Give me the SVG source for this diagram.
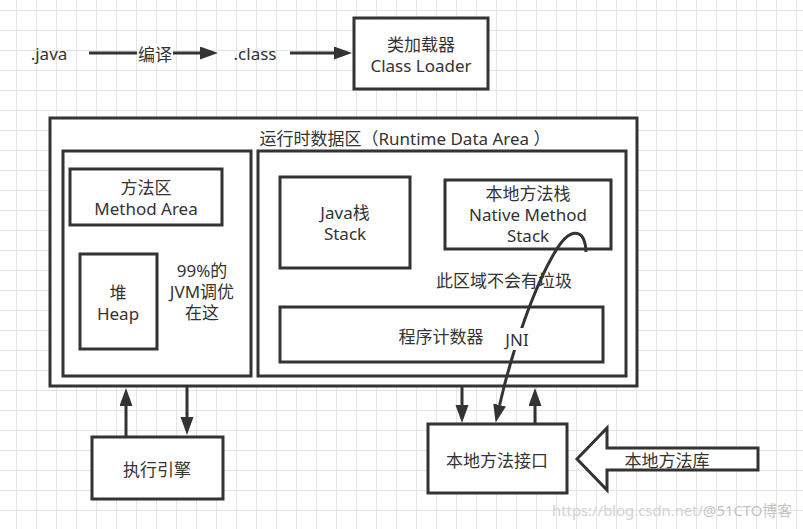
<svg xmlns="http://www.w3.org/2000/svg" width="803" height="529" viewBox="0 0 803 529">
<style>
.box{fill:#fff;stroke:#333;stroke-width:3}
.t{font-family:"Noto Sans","Noto Sans CJK SC",sans-serif;font-size:17px;fill:#333;text-anchor:middle;dominant-baseline:central}
.ln{fill:none;stroke:#333;stroke-width:3}
.wm{font-family:"Noto Sans","Noto Sans CJK SC",sans-serif;font-size:15px;dominant-baseline:central}
</style>
<defs>
<pattern id="grid" patternUnits="userSpaceOnUse" x="16" y="10" width="20" height="20">
<path d="M0.5 0V20M0 0.5H20" stroke="#e4e4e4" stroke-width="1" fill="none"/>
</pattern>
<marker id="ah" markerUnits="userSpaceOnUse" markerWidth="20" markerHeight="14" refX="0" refY="6.5" orient="auto">
<path d="M0,0 L18,6.5 L0,13 z" fill="#333"/>
</marker>
</defs>
<rect width="803" height="529" fill="#fff"/>
<rect width="803" height="529" fill="url(#grid)"/>

<g id="java"><text class="t" x="49" y="53">.java</text></g>
<g id="class"><text class="t" x="255" y="53">.class</text></g>
<g id="classloader">
<rect class="box" x="354" y="18" width="134" height="71"/>
<text class="t" x="421" y="44">类加载器</text>
<text class="t" x="421" y="65">Class Loader</text>
</g>

<g id="runtime">
<rect class="box" x="50" y="118" width="587" height="268"/>
<text class="t" x="405" y="138">运行时数据区（Runtime Data Area ）</text>
</g>
<g id="left-area"><rect class="box" x="63" y="151" width="188" height="225"/></g>
<g id="method-area">
<rect class="box" x="70" y="169" width="152" height="56"/>
<text class="t" x="146" y="187">方法区</text>
<text class="t" x="146" y="208">Method Area</text>
</g>
<g id="heap">
<rect class="box" x="80" y="254" width="77" height="95"/>
<text class="t" x="118" y="292">堆</text>
<text class="t" x="118" y="313">Heap</text>
</g>
<g id="jvm-note">
<text class="t" x="202" y="270">99%的</text>
<text class="t" x="202" y="291">JVM调优</text>
<text class="t" x="202" y="312">在这</text>
</g>
<g id="right-area"><rect class="box" x="258" y="151" width="368" height="225"/></g>
<g id="java-stack">
<rect class="box" x="280" y="177" width="130" height="91"/>
<text class="t" x="345" y="212">Java栈</text>
<text class="t" x="345" y="233">Stack</text>
</g>
<g id="native-stack">
<rect class="box" x="445" y="180" width="166" height="69"/>
<text class="t" x="528" y="193">本地方法栈</text>
<text class="t" x="528" y="214">Native Method</text>
<text class="t" x="528" y="235">Stack</text>
</g>
<g id="no-gc-note"><text class="t" x="504" y="280">此区域不会有垃圾</text></g>
<g id="pc">
<rect class="box" x="280" y="307" width="323" height="55"/>
<text class="t" x="441" y="336">程序计数器</text>
</g>

<g id="engine">
<rect class="box" x="92" y="437" width="131" height="62"/>
<text class="t" x="157" y="469">执行引擎</text>
</g>
<g id="native-interface">
<rect class="box" x="428" y="424" width="139" height="69"/>
<text class="t" x="497" y="460">本地方法接口</text>
</g>
<g id="native-library">
<polygon points="577,459 607,428 607,448 758,448 758,470 607,470 607,490" fill="#fff" stroke="#333" stroke-width="3" stroke-linejoin="miter"/>
<text class="t" x="667" y="460">本地方法库</text>
</g>

<g id="connectors">
<line class="ln" x1="89" y1="53" x2="200" y2="53" marker-end="url(#ah)"/>
<rect x="137" y="43" width="36" height="21" fill="#fff"/>
<text class="t" x="155" y="54">编译</text>
<line class="ln" x1="290" y1="53" x2="334" y2="53" marker-end="url(#ah)"/>
<line class="ln" x1="126" y1="437" x2="126" y2="406" marker-end="url(#ah)"/>
<line class="ln" x1="187" y1="387" x2="187" y2="417" marker-end="url(#ah)"/>
<line class="ln" x1="462" y1="387" x2="462" y2="405" marker-end="url(#ah)"/>
<line class="ln" x1="535" y1="424" x2="535" y2="406" marker-end="url(#ah)"/>
<path class="ln" d="M586 252 C585 228 570 226 555 252 C535 285 512 350 499.6 405" marker-end="url(#ah)"/>
<rect x="503" y="328" width="28" height="22" fill="#fff"/>
<text class="t" x="517" y="339">JNI</text>
</g>

<g id="watermark">
<text class="wm" x="552" y="510" fill="#d2d2d2" textLength="240" lengthAdjust="spacingAndGlyphs">https://blog.csdn.net/<tspan fill="#c4c4c4">@51CTO博客</tspan></text>
</g>
</svg>
